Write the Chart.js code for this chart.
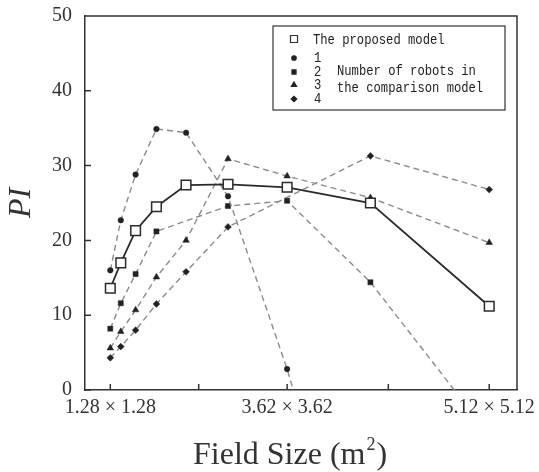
<!DOCTYPE html>
<html>
<head>
<meta charset="utf-8">
<script src="https://cdn.jsdelivr.net/npm/chart.js@4/dist/chart.umd.min.js"></script>
<style>
  html, body { margin: 0; padding: 0; background: #fff; }
  #wrap { width: 539px; height: 472px; }
</style>
</head>
<body>
<div id="wrap"><canvas id="piChart" width="539" height="472"></canvas></div>
<script>
// field sizes, plotted by area (m^2)
const fieldArea = [1.64, 2.32, 3.28, 4.63, 6.55, 9.27, 13.1, 18.5, 26.2];

const proposed = [13.6, 17.0, 21.3, 24.5, 27.4, 27.5, 27.1, 25.0, 11.2];
const robots1 = [16.0, 22.7, 28.8, 34.9, 34.4, 25.9, 2.8, -35, null];
const robots2 = [8.2, 11.6, 15.5, 21.2, null, 24.6, 25.3, 14.4, -6.0];
const robots3 = [5.6, 7.8, 10.7, 15.1, 20.0, 30.9, 28.6, 25.7, 19.7];
const robots4 = [4.3, 5.8, 8.0, 11.5, 15.8, 21.8, null, 31.3, 26.8];

const xTickValues = [1.64, 7.37, 13.1, 19.66, 26.2];
const xTickLabels = ['1.28 × 1.28', '', '3.62 × 3.62', '', '5.12 × 5.12'];

const robotNames = ['1', '2', '3', '4'];
const robotStyles = ['circle', 'rect', 'triangle', 'rectRot'];
const robotRadius = [2.8, 3.6, 3.8, 3.4];

const DARK = '#2b2b2b';
const DASH = '#8c8c8c';
const SERIF = '"Liberation Serif", "Times New Roman", serif';

function toPoints(vals) {
  return fieldArea.map((x, i) => ({ x: x, y: vals[i] }));
}

function robotSet(vals, i) {
  return {
    label: robotNames[i],
    data: toPoints(vals),
    borderColor: DASH,
    borderWidth: 1.4,
    borderDash: [6, 4],
    pointStyle: robotStyles[i],
    pointRadius: robotRadius[i],
    pointBackgroundColor: '#222',
    pointBorderColor: '#222',
    pointBorderWidth: 0.5,
    spanGaps: true,
    tension: 0,
  };
}

// frame, inward ticks, x title with raised exponent, boxed legend
const framePlugin = {
  id: 'frame',
  afterDraw(chart) {
    const ctx = chart.ctx;
    const a = chart.chartArea;
    const xs = chart.scales.x, ys = chart.scales.y;
    ctx.save();
    ctx.strokeStyle = '#333';
    ctx.lineWidth = 1.5;
    ctx.beginPath();
    ctx.moveTo(a.left, a.top);
    ctx.lineTo(a.right, a.top);
    ctx.lineTo(a.right, a.bottom);
    xTickValues.forEach(v => {
      const px = xs.getPixelForValue(v);
      ctx.moveTo(px, a.bottom);
      ctx.lineTo(px, a.bottom - 6);
    });
    ys.ticks.forEach(t => {
      const py = ys.getPixelForValue(t.value);
      ctx.moveTo(a.left, py);
      ctx.lineTo(a.left + 6, py);
    });
    ctx.stroke();

    // x axis title: Field Size (m^2)
    ctx.fillStyle = '#333';
    ctx.textBaseline = 'alphabetic';
    ctx.textAlign = 'left';
    let tx = a.left + 108;
    const ty = a.bottom + 74;
    ctx.font = '32px ' + SERIF;
    ctx.fillText('Field Size (m', tx, ty);
    tx += ctx.measureText('Field Size (m').width + 1;
    ctx.font = '18px ' + SERIF;
    ctx.fillText('2', tx, ty - 14);
    tx += ctx.measureText('2').width + 1;
    ctx.font = '32px ' + SERIF;
    ctx.fillText(')', tx, ty);

    // legend box
    const bx = a.left + 188, by = a.top + 10, bw = 232, bh = 84;
    ctx.fillStyle = '#fff';
    ctx.fillRect(bx, by, bw, bh);
    ctx.lineWidth = 1.2;
    ctx.strokeRect(bx, by, bw, bh);

    const mx = bx + 21;
    ctx.strokeStyle = '#333';
    ctx.lineWidth = 1.2;
    ctx.fillStyle = '#fff';
    ctx.beginPath();
    ctx.rect(mx - 3.5, by + 9.5, 7, 7);
    ctx.fill();
    ctx.stroke();

    const rowY = [by + 32, by + 46, by + 59, by + 73];
    ctx.fillStyle = '#222';
    ctx.strokeStyle = '#222';
    rowY.forEach((y, i) => {
      Chart.helpers.drawPoint(ctx, {
        pointStyle: robotStyles[i], radius: robotRadius[i] * 0.8, rotation: 0, borderWidth: 0.5
      }, mx, y);
    });

    ctx.fillStyle = '#222';
    ctx.font = '14px "Liberation Mono", "DejaVu Sans Mono", monospace';
    ctx.textBaseline = 'middle';
    const monoText = (t, x, y) => {
      ctx.save();
      ctx.translate(x, y);
      ctx.scale(0.87, 1);
      ctx.fillText(t, 0, 0);
      ctx.restore();
    };
    monoText('The proposed model', bx + 40, by + 14);
    rowY.forEach((y, i) => monoText(robotNames[i], bx + 41, y));
    monoText('Number of robots in', bx + 64, by + 45);
    monoText('the comparison model', bx + 64, by + 62);
    ctx.restore();
  }
};

new Chart(document.getElementById('piChart'), {
  type: 'line',
  data: {
    datasets: [
      {
        label: 'The proposed model',
        data: toPoints(proposed),
        borderColor: DARK,
        borderWidth: 1.8,
        pointStyle: 'rect',
        pointRadius: 6.8,
        pointBackgroundColor: '#fff',
        pointBorderColor: DARK,
        pointBorderWidth: 1.5,
        tension: 0,
      },
      robotSet(robots1, 0),
      robotSet(robots2, 1),
      robotSet(robots3, 2),
      robotSet(robots4, 3),
    ],
  },
  options: {
    responsive: false,
    animation: false,
    layout: { padding: { top: 16, right: 22, left: 0, bottom: 0 } },
    plugins: { legend: { display: false }, tooltip: { enabled: false } },
    scales: {
      x: {
        type: 'linear',
        min: 0,
        max: 28,
        afterBuildTicks(s) { s.ticks = xTickValues.map(v => ({ value: v })); },
        afterFit(s) { s.height = 82; s.paddingLeft = 0; s.paddingRight = 0; },
        grid: { display: false, drawTicks: false },
        border: { display: true, color: '#333', width: 1.5 },
        ticks: {
          autoSkip: false,
          maxRotation: 0,
          padding: 6,
          color: '#333',
          font: { family: SERIF, size: 20 },
          callback: (v, i) => xTickLabels[i],
        },
        title: { display: false },
      },
      y: {
        min: 0,
        max: 50,
        afterFit(s) { s.width = 85; s.paddingTop = 0; s.paddingBottom = 0; },
        grid: { display: false, drawTicks: false },
        border: { display: true, color: '#333', width: 1.5 },
        ticks: {
          stepSize: 10,
          padding: 13,
          color: '#333',
          font: { family: SERIF, size: 20 },
        },
        title: {
          display: true,
          text: 'PI',
          color: '#333',
          padding: { top: 2, bottom: 0 },
          font: { family: SERIF, size: 32, style: 'italic' },
        },
      },
    },
  },
  plugins: [framePlugin],
});
</script>
</body>
</html>
